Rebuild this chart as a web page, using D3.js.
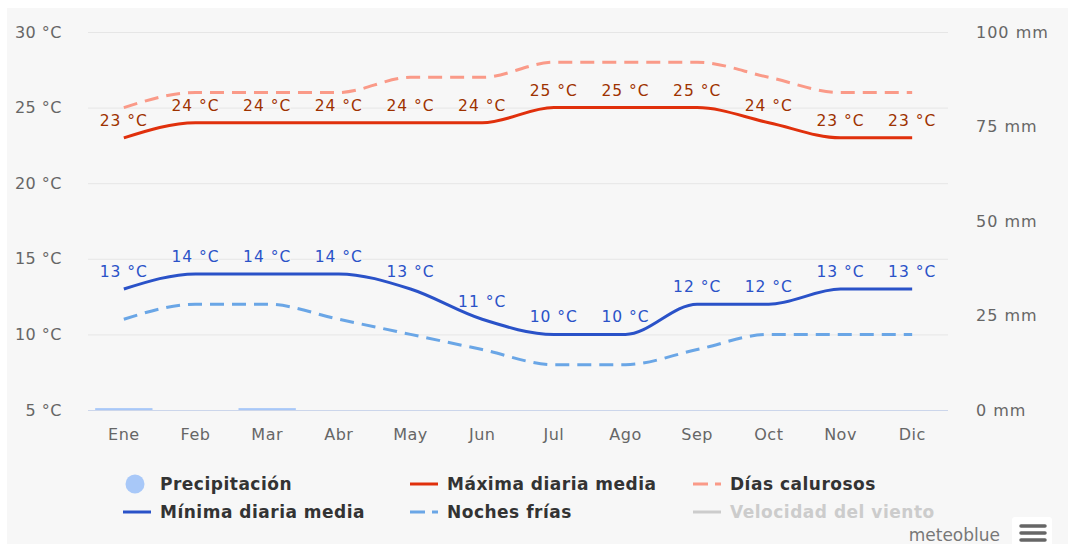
<!DOCTYPE html>
<html>
<head>
<meta charset="utf-8">
<script src="https://cdn.jsdelivr.net/npm/d3@7"></script>
<style>
  html, body { margin: 0; padding: 0; background: #ffffff; }
  svg { display: block; }
</style>
</head>
<body>
<svg id="chart" width="1068" height="544"></svg>
<script>
// Monthly climate data
const months = ["Ene", "Feb", "Mar", "Abr", "May", "Jun", "Jul", "Ago", "Sep", "Oct", "Nov", "Dic"];
const precipitation = [0.5, 0, 0.5, 0, 0, 0, 0, 0, 0, 0, 0, 0];      // mm
const maxDaily = [23, 24, 24, 24, 24, 24, 25, 25, 25, 24, 23, 23];   // °C
const minDaily = [13, 14, 14, 14, 13, 11, 10, 10, 12, 12, 13, 13];   // °C
const hotDays = [25, 26, 26, 26, 27, 27, 28, 28, 28, 27, 26, 26];    // °C
const coldNights = [11, 12, 12, 11, 10, 9, 8, 8, 9, 10, 10, 10];     // °C
const tempTicks = [5, 10, 15, 20, 25, 30];
const precipTicks = [0, 25, 50, 75, 100];

const svg = d3.select("#chart");
const W = 1068, H = 544;
const font = "'DejaVu Sans', Verdana, sans-serif";

// panel background
svg.append("rect").attr("x", 7).attr("y", 8).attr("width", W - 7).attr("height", H - 8)
  .attr("fill", "#f7f7f7");

const plotLeft = 88, plotRight = 948, plotTop = 32, plotBottom = 410;

const x = d3.scaleBand().domain(months).range([plotLeft, plotRight]).paddingInner(0.2).paddingOuter(0.1);
const xc = m => x(m) + x.bandwidth() / 2;
const yT = d3.scaleLinear().domain([5, 30]).range([plotBottom, plotTop]);
const yP = d3.scaleLinear().domain([0, 100]).range([plotBottom, plotTop]);

// gridlines
svg.append("g").selectAll("line").data(tempTicks.filter(t => t !== 5)).join("line")
  .attr("x1", plotLeft).attr("x2", plotRight)
  .attr("y1", d => yT(d) + 0.5).attr("y2", d => yT(d) + 0.5)
  .attr("stroke", "#e6e6e6").attr("stroke-width", 1);

// left axis labels
const leftAxis = d3.axisLeft(yT).tickValues(tempTicks).tickFormat(d => d + " °C").tickSize(0).tickPadding(0);
const gL = svg.append("g").attr("transform", `translate(62,0)`).call(leftAxis);
gL.select(".domain").remove();
gL.selectAll("text").attr("font-family", font).attr("font-size", 16).attr("letter-spacing", 0.5)
  .attr("fill", "#666666").attr("dy", "0.32em");

// right axis labels
const rightAxis = d3.axisRight(yP).tickValues(precipTicks).tickFormat(d => d + " mm").tickSize(0).tickPadding(0);
const gR = svg.append("g").attr("transform", `translate(976,0)`).call(rightAxis);
gR.select(".domain").remove();
gR.selectAll("text").attr("font-family", font).attr("font-size", 16).attr("letter-spacing", 1)
  .attr("fill", "#666666").attr("dy", "0.32em");

// bottom axis
const bottomAxis = d3.axisBottom(x).tickSize(0).tickPadding(19);
const gB = svg.append("g").attr("transform", `translate(0,${plotBottom})`).call(bottomAxis);
gB.select(".domain").attr("stroke", "#ccd6eb").attr("stroke-width", 1).attr("d", `M${plotLeft},0.5H${plotRight}`);
gB.selectAll("text").attr("font-family", font).attr("font-size", 16).attr("letter-spacing", 0.5)
  .attr("fill", "#666666");

// precipitation bars
svg.append("g").selectAll("rect").data(months.map((m, i) => ({ m, v: precipitation[i] })).filter(d => d.v > 0))
  .join("rect")
  .attr("x", d => x(d.m)).attr("width", x.bandwidth())
  .attr("y", d => yP(d.v)).attr("height", d => yP(0) - yP(d.v))
  .attr("fill", "#a8c8f8");

const line = vals => d3.line().x((d, i) => xc(months[i])).y(d => yT(d)).curve(d3.curveMonotoneX)(vals);

svg.append("path").attr("d", line(hotDays)).attr("fill", "none")
  .attr("stroke", "#fa9a88").attr("stroke-width", 3).attr("stroke-dasharray", "14,8");
svg.append("path").attr("d", line(coldNights)).attr("fill", "none")
  .attr("stroke", "#6aa6e6").attr("stroke-width", 3).attr("stroke-dasharray", "14,8");
svg.append("path").attr("d", line(maxDaily)).attr("fill", "none")
  .attr("stroke", "#e0300c").attr("stroke-width", 3);
svg.append("path").attr("d", line(minDaily)).attr("fill", "none")
  .attr("stroke", "#2a52c8").attr("stroke-width", 3);

// data labels
function labels(vals, color) {
  svg.append("g").selectAll("text").data(vals).join("text")
    .attr("x", (d, i) => xc(months[i]))
    .attr("y", d => yT(d) - 12)
    .attr("text-anchor", "middle")
    .attr("font-family", font).attr("font-size", 15.5).attr("letter-spacing", 1)
    .attr("fill", color)
    .attr("stroke", "#f7f7f7").attr("stroke-width", 2).attr("paint-order", "stroke")
    .text(d => d + " °C");
}
labels(maxDaily, "#9e3200");
labels(minDaily, "#2a52c8");

// legend
const leg = svg.append("g").attr("font-family", font).attr("font-size", 17).attr("font-weight", "bold")
  .attr("letter-spacing", 0.5);
const legendItems = [
  { label: "Precipitación", x: 123, y: 484, type: "circle", color: "#a8c8f8" },
  { label: "Máxima diaria media", x: 410, y: 484, type: "line", color: "#e0300c" },
  { label: "Días calurosos", x: 693, y: 484, type: "dash", color: "#fa9a88" },
  { label: "Mínima diaria media", x: 123, y: 512, type: "line", color: "#2a52c8" },
  { label: "Noches frías", x: 410, y: 512, type: "dash", color: "#6aa6e6" },
  { label: "Velocidad del viento", x: 693, y: 512, type: "line", color: "#cccccc", muted: true }
];
legendItems.forEach(d => {
  if (d.type === "circle") {
    leg.append("circle").attr("cx", d.x + 12).attr("cy", d.y).attr("r", 9.5).attr("fill", d.color);
  } else {
    leg.append("line").attr("x1", d.x).attr("x2", d.x + 28).attr("y1", d.y).attr("y2", d.y)
      .attr("stroke", d.color).attr("stroke-width", 3)
      .attr("stroke-dasharray", d.type === "dash" ? "15,7" : null);
  }
  leg.append("text").attr("x", d.x + 37).attr("y", d.y).attr("dy", "0.35em")
    .attr("fill", d.muted ? "#cccccc" : "#333333").text(d.label);
});

// credit and menu button
svg.append("text").attr("x", 1000).attr("y", 541).attr("text-anchor", "end")
  .attr("font-family", font).attr("font-size", 17).attr("fill", "#777777").text("meteoblue");
svg.append("rect").attr("x", 1012).attr("y", 517).attr("width", 40).attr("height", 34).attr("rx", 3)
  .attr("fill", "#ffffff");
[526, 533, 540].forEach(yy => {
  svg.append("line").attr("x1", 1021).attr("x2", 1045).attr("y1", yy).attr("y2", yy)
    .attr("stroke", "#666666").attr("stroke-width", 3.5).attr("stroke-linecap", "round");
});
</script>
</body>
</html>
